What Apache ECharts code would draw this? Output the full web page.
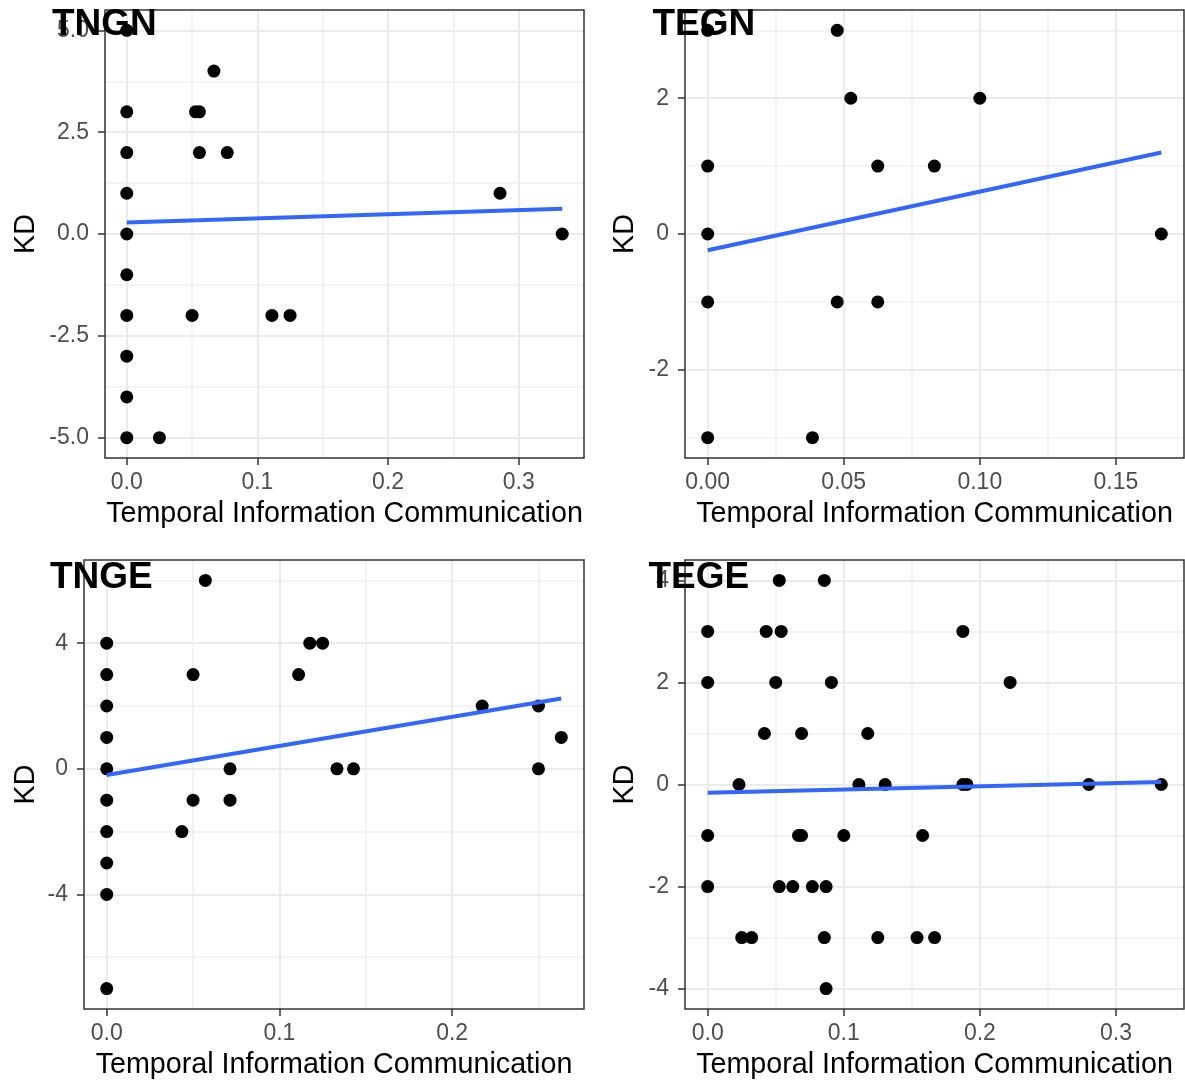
<!DOCTYPE html>
<html>
<head>
<meta charset="utf-8">
<script src="https://cdn.jsdelivr.net/npm/echarts@6/dist/echarts.min.js"></script>
<style>
  html, body { margin: 0; padding: 0; background: #ffffff; }
  #chart { width: 1185px; height: 1083px; }
</style>
</head>
<body>
<div id="chart"></div>
<script>
// ---- TNGN ----
const tngnX = [0, 0, 0, 0, 0, 0, 0, 0, 0, 0,
  0.0667, 0.0526, 0.0556, 0.0556, 0.0769, 0.2857, 0.3333, 0.05, 0.1111, 0.125, 0.025];
const tngnY = [5, 3, 2, 1, 0, -1, -2, -3, -4, -5,
  4, 3, 3, 2, 2, 1, 0, -2, -2, -2, -5];
const tngnFitX = [0, 0.3333];
const tngnFitY = [0.28, 0.62];
const tngnXTicks = [0, 0.1, 0.2, 0.3];
const tngnXLabels = ['0.0', '0.1', '0.2', '0.3'];
const tngnYTicks = [-5, -2.5, 0, 2.5, 5];
const tngnYLabels = ['-5.0', '-2.5', '0.0', '2.5', '5.0'];
const tngnXMinor = [0.05, 0.15, 0.25];
const tngnYMinor = [-3.75, -1.25, 1.25, 3.75];

// ---- TEGN ----
const tegnX = [0, 0, 0, 0, 0,
  0.0476, 0.0526, 0.1, 0.0625, 0.0833, 0.1667, 0.0476, 0.0625, 0.0385];
const tegnY = [3, 1, 0, -1, -3,
  3, 2, 2, 1, 1, 0, -1, -1, -3];
const tegnFitX = [0, 0.1667];
const tegnFitY = [-0.24, 1.2];
const tegnXTicks = [0, 0.05, 0.1, 0.15];
const tegnXLabels = ['0.00', '0.05', '0.10', '0.15'];
const tegnYTicks = [-2, 0, 2];
const tegnYLabels = ['-2', '0', '2'];
const tegnXMinor = [0.025, 0.075, 0.125];
const tegnYMinor = [-3, -1, 1, 3];

// ---- TNGE ----
const tngeX = [0, 0, 0, 0, 0, 0, 0, 0, 0, 0,
  0.0571, 0.1176, 0.125, 0.05, 0.1111, 0.2174, 0.25, 0.2632,
  0.0714, 0.1333, 0.1429, 0.25, 0.05, 0.0714, 0.0435];
const tngeY = [4, 3, 2, 1, 0, -1, -2, -3, -4, -7,
  6, 4, 4, 3, 3, 2, 2, 1,
  0, 0, 0, 0, -1, -1, -2];
const tngeFitX = [0, 0.2632];
const tngeFitY = [-0.2, 2.24];
const tngeXTicks = [0, 0.1, 0.2];
const tngeXLabels = ['0.0', '0.1', '0.2'];
const tngeYTicks = [-4, 0, 4];
const tngeYLabels = ['-4', '0', '4'];
const tngeXMinor = [0.05, 0.15, 0.25];
const tngeYMinor = [-6, -2, 2, 6];

// ---- TEGE ----
const tegeX = [0, 0, 0, 0,
  0.0526, 0.0857,
  0.043, 0.054, 0.1875,
  0.05, 0.0909, 0.2222,
  0.0417, 0.069, 0.1176,
  0.023, 0.1111, 0.1304, 0.1875, 0.1905, 0.28, 0.3333,
  0.0667, 0.069, 0.1, 0.1579,
  0.0526, 0.0625, 0.0769, 0.087,
  0.025, 0.0323, 0.0857, 0.125, 0.1538, 0.1667,
  0.087];
const tegeY = [3, 2, -1, -2,
  4, 4,
  3, 3, 3,
  2, 2, 2,
  1, 1, 1,
  0, 0, 0, 0, 0, 0, 0,
  -1, -1, -1, -1,
  -2, -2, -2, -2,
  -3, -3, -3, -3, -3, -3,
  -4];
const tegeFitX = [0, 0.3333];
const tegeFitY = [-0.16, 0.05];
const tegeXTicks = [0, 0.1, 0.2, 0.3];
const tegeXLabels = ['0.0', '0.1', '0.2', '0.3'];
const tegeYTicks = [-4, -2, 0, 2, 4];
const tegeYLabels = ['-4', '-2', '0', '2', '4'];
const tegeXMinor = [0.05, 0.15, 0.25];
const tegeYMinor = [-3, -1, 1, 3];

const FONT = '"Liberation Sans", Arial, Helvetica, sans-serif';
const X_TITLE = 'Temporal Information Communication';
const Y_TITLE = 'KD';

const panels = [
  { title: 'TNGN', x: tngnX, y: tngnY, fx: tngnFitX, fy: tngnFitY,
    xt: tngnXTicks, xl: tngnXLabels, yt: tngnYTicks, yl: tngnYLabels, xm: tngnXMinor, ym: tngnYMinor,
    box: { left: 105, top: 10, width: 479, height: 448 }, yNameGap: 64, head: { left: 52, top: 6.5 } },
  { title: 'TEGN', x: tegnX, y: tegnY, fx: tegnFitX, fy: tegnFitY,
    xt: tegnXTicks, xl: tegnXLabels, yt: tegnYTicks, yl: tegnYLabels, xm: tegnXMinor, ym: tegnYMinor,
    box: { left: 685, top: 10, width: 499, height: 448 }, yNameGap: 45.5, head: { left: 652.5, top: 6.5 } },
  { title: 'TNGE', x: tngeX, y: tngeY, fx: tngeFitX, fy: tngeFitY,
    xt: tngeXTicks, xl: tngeXLabels, yt: tngeYTicks, yl: tngeYLabels, xm: tngeXMinor, ym: tngeYMinor,
    box: { left: 84, top: 560, width: 500, height: 449 }, yNameGap: 43, head: { left: 50, top: 559 } },
  { title: 'TEGE', x: tegeX, y: tegeY, fx: tegeFitX, fy: tegeFitY,
    xt: tegeXTicks, xl: tegeXLabels, yt: tegeYTicks, yl: tegeYLabels, xm: tegeXMinor, ym: tegeYMinor,
    box: { left: 685, top: 560, width: 499, height: 449 }, yNameGap: 45.5, head: { left: 648.5, top: 559 } }
];

// continuous scale limits padded by 5% of the data range on each side
function padded(values) {
  const lo = Math.min.apply(null, values);
  const hi = Math.max.apply(null, values);
  const pad = (hi - lo) * 0.05;
  return [lo - pad, hi + pad];
}

function labelFor(ticks, labels) {
  return function (v) {
    for (let i = 0; i < ticks.length; i++) {
      if (Math.abs(ticks[i] - v) < 1e-9) return labels[i];
    }
    return '';
  };
}

const grids = [], xAxes = [], yAxes = [], series = [], titles = [];

panels.forEach(function (p, i) {
  const xr = padded(p.x);
  const yr = padded(p.y);

  grids.push({
    left: p.box.left, top: p.box.top, width: p.box.width, height: p.box.height,
    show: true, z: 3, backgroundColor: 'transparent',
    borderColor: '#333333', borderWidth: 1.5,
    containLabel: false, outerBoundsMode: 'none'
  });

  // main axes: ticks, labels, major grid
  xAxes.push({
    type: 'value', gridIndex: i, position: 'bottom', min: xr[0], max: xr[1],
    axisLine: { show: false, onZero: false },
    axisTick: { show: true, length: 7, customValues: p.xt, lineStyle: { color: '#333333', width: 1.5 } },
    axisLabel: { customValues: p.xt, formatter: labelFor(p.xt, p.xl), color: '#4D4D4D',
      fontSize: 23, fontFamily: FONT, margin: 13 },
    splitLine: { show: true, lineStyle: { color: '#EBEBEB', width: 2 } },
    name: X_TITLE, nameLocation: 'middle', nameGap: 42, nameMoveOverlap: false,
    nameTextStyle: { fontSize: 28.7, color: '#000000', fontFamily: FONT }
  });
  // secondary axis carrying the minor grid
  xAxes.push({
    type: 'value', gridIndex: i, position: 'top', min: xr[0], max: xr[1],
    axisLine: { show: false, onZero: false },
    axisTick: { show: false, customValues: p.xm },
    axisLabel: { show: false, customValues: p.xm },
    splitLine: { show: true, lineStyle: { color: '#EFEFEF', width: 1.5 } }
  });

  yAxes.push({
    type: 'value', gridIndex: i, position: 'left', min: yr[0], max: yr[1],
    axisLine: { show: false, onZero: false },
    axisTick: { show: true, length: 7, customValues: p.yt, lineStyle: { color: '#333333', width: 1.5 } },
    axisLabel: { customValues: p.yt, formatter: labelFor(p.yt, p.yl), color: '#4D4D4D',
      fontSize: 23, fontFamily: FONT, margin: 16 },
    splitLine: { show: true, lineStyle: { color: '#EBEBEB', width: 2 } },
    name: Y_TITLE, nameLocation: 'middle', nameGap: p.yNameGap, nameMoveOverlap: false,
    nameTextStyle: { fontSize: 28.7, color: '#000000', fontFamily: FONT }
  });
  yAxes.push({
    type: 'value', gridIndex: i, position: 'right', min: yr[0], max: yr[1],
    axisLine: { show: false, onZero: false },
    axisTick: { show: false, customValues: p.ym },
    axisLabel: { show: false, customValues: p.ym },
    splitLine: { show: true, lineStyle: { color: '#EFEFEF', width: 1.5 } }
  });

  series.push({
    type: 'scatter', xAxisIndex: 2 * i, yAxisIndex: 2 * i,
    data: p.x.map(function (xv, k) { return [xv, p.y[k]]; }),
    symbol: 'circle', symbolSize: 13,
    itemStyle: { color: '#000000', opacity: 1 }, z: 2
  });
  series.push({
    type: 'line', xAxisIndex: 2 * i, yAxisIndex: 2 * i,
    data: p.fx.map(function (xv, k) { return [xv, p.fy[k]]; }),
    showSymbol: false, symbol: 'none',
    lineStyle: { color: '#3366FF', width: 4 }, z: 3
  });

  titles.push({
    text: p.title, left: p.head.left, top: p.head.top, padding: 0,
    textStyle: { fontSize: 37, fontWeight: 'bold', color: '#000000', fontFamily: FONT }
  });
});

const chart = echarts.init(document.getElementById('chart'), null, { renderer: 'canvas' });
chart.setOption({
  animation: false,
  backgroundColor: '#ffffff',
  title: titles,
  grid: grids,
  xAxis: xAxes,
  yAxis: yAxes,
  series: series
});
</script>
</body>
</html>
